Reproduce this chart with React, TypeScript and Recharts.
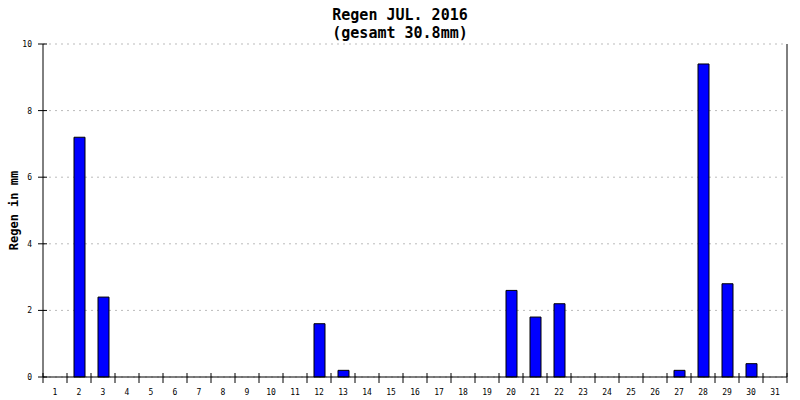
import React from "react";
import { BarChart, Bar, XAxis, YAxis, CartesianGrid } from "recharts";

const days = Array.from({ length: 31 }, (_, i) => String(i + 1));
const rain: number[] = [
  0, 7.2, 2.4, 0, 0, 0, 0, 0, 0, 0,
  0, 1.6, 0.2, 0, 0, 0, 0, 0, 0, 2.6,
  1.8, 2.2, 0, 0, 0, 0, 0.2, 9.4, 2.8, 0.4,
  0,
];
const yTicks = [0, 2, 4, 6, 8, 10];
const title1 = "Regen JUL. 2016";
const title2 = "(gesamt 30.8mm)";
const yLabel = "Regen in mm";

const data = days.map((d, i) => ({ day: d, rain: rain[i] }));

const W = 800;
const H = 400;
const M = { top: 44, right: 13, bottom: 0, left: 0 };
const YW = 43;
const XH = 23;
const PLOT_W = W - M.left - M.right - YW;
const BAND = PLOT_W / days.length;
const MONO = "'DejaVu Sans Mono', 'Liberation Mono', monospace";

const XTick = (props: any) => {
  const { x, y, payload, index } = props;
  const half = BAND / 2;
  return (
    <g>
      <line x1={x - half} x2={x - half} y1={y - 4} y2={y + 6} stroke="#000" />
      {index === days.length - 1 && (
        <line x1={x + half} x2={x + half} y1={y - 4} y2={y + 6} stroke="#000" />
      )}
      <text x={x} y={y + 18} textAnchor="middle" fontSize={8} fontFamily={MONO} fill="#000">
        {payload.value}
      </text>
    </g>
  );
};

const YTick = (props: any) => {
  const { x, y, payload } = props;
  return (
    <g>
      <line x1={x - 5} x2={x + 4} y1={y} y2={y} stroke="#000" />
      <text x={x - 11} y={y + 3} textAnchor="end" fontSize={8} fontFamily={MONO} fill="#000">
        {payload.value}
      </text>
    </g>
  );
};

export default function App() {
  return (
    <div style={{ position: "absolute", left: 0, top: 0, width: W, height: H, background: "#fff" }}>
      <div
        style={{
          position: "absolute",
          left: 0,
          top: 6,
          width: W,
          textAlign: "center",
          fontFamily: MONO,
          fontWeight: "bold",
          fontSize: 15,
          lineHeight: "18px",
          color: "#000",
        }}
      >
        <div>{title1}</div>
        <div>{title2}</div>
      </div>
      <BarChart width={W} height={H} data={data} margin={M} barCategoryGap={0}>
        <CartesianGrid vertical={false} stroke="#bbbbbb" strokeDasharray="2 4" />
        <CartesianGrid
          horizontal={false}
          stroke="#000"
          verticalCoordinatesGenerator={({ offset }: any) => [offset.left + offset.width]}
        />
        <XAxis
          dataKey="day"
          height={XH}
          interval={0}
          tickLine={false}
          tickSize={0}
          tickMargin={0}
          axisLine={{ stroke: "#000" }}
          tick={<XTick />}
        />
        <YAxis
          width={YW}
          domain={[0, 10]}
          ticks={yTicks}
          tickLine={false}
          tickSize={0}
          tickMargin={0}
          axisLine={{ stroke: "#000" }}
          tick={<YTick />}
          label={{
            value: yLabel,
            angle: -90,
            position: "insideLeft",
            offset: 14,
            style: { fontFamily: MONO, fontWeight: "bold", fontSize: 12, fill: "#000", textAnchor: "middle" },
          }}
        />
        <Bar dataKey="rain" fill="#0000ff" stroke="#000" strokeWidth={1} barSize={11} isAnimationActive={false} />
      </BarChart>
    </div>
  );
}
